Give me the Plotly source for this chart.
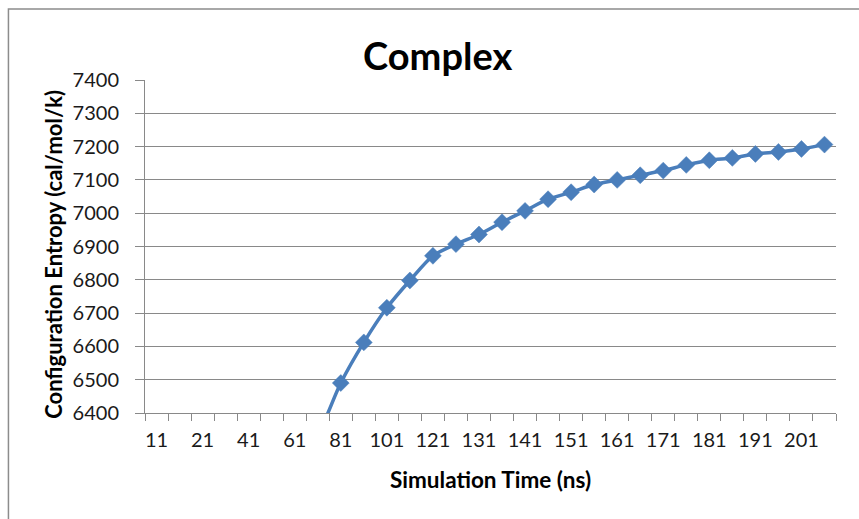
import plotly.graph_objects as go

# Simulation time categories (ns); only every other one carries a printed label
time_ns = ["11", "16", "21", "31", "41", "51", "61", "71", "81", "91",
           "101", "111", "121", "126", "131", "136", "141", "146", "151", "156",
           "161", "166", "171", "176", "181", "186", "191", "196", "201", "206"]
tick_text = ["11", "", "21", "", "41", "", "61", "", "81", "",
             "101", "", "121", "", "131", "", "141", "", "151", "",
             "161", "", "171", "", "181", "", "191", "", "201", ""]

# Configuration entropy (cal/mol/k)
entropy = [4600, 5200, 5600, 5850, 6020, 6150, 6250, 6335, 6490, 6612,
           6716, 6798, 6872, 6907, 6936, 6973, 7007, 7042, 7063, 7086,
           7100, 7114, 7128, 7145, 7159, 7166, 7178, 7184, 7193, 7206]

y_ticks = [6400, 6500, 6600, 6700, 6800, 6900, 7000, 7100, 7200, 7300, 7400]

BLUE = "#4a7ebb"
GRAY = "#898989"
FONT = "Lato"

fig = go.Figure()
fig.add_trace(go.Scatter(
    x=time_ns, y=entropy, mode="lines+markers",
    line=dict(color=BLUE, width=3.5, shape="spline", smoothing=0.8),
    marker=dict(symbol="diamond", size=13, color=BLUE,
                line=dict(color=BLUE, width=0.5)),
    cliponaxis=True, showlegend=False,
))

fig.update_layout(
    width=859, height=519,
    margin=dict(l=145, r=23, t=80, b=106),
    paper_bgcolor="white", plot_bgcolor="white",
    font=dict(family=FONT, color="#222222"),
    xaxis=dict(
        type="category", categoryorder="array", categoryarray=time_ns,
        range=[-0.5, len(time_ns) - 0.5],
        tickmode="array", tickvals=time_ns, ticktext=tick_text, tickangle=0,
        tickson="boundaries", ticks="outside", ticklen=7, tickcolor=GRAY,
        showline=True, linecolor=GRAY, linewidth=1,
        showgrid=False, zeroline=False,
        tickfont=dict(family=FONT, size=20, color="#1a1a1a"),
        ticklabelstandoff=9,
    ),
    yaxis=dict(
        range=[6400, 7400], tickmode="array", tickvals=y_ticks,
        ticks="outside", ticklen=9, tickcolor=GRAY,
        showline=True, linecolor=GRAY, linewidth=1,
        showgrid=True, gridcolor=GRAY, gridwidth=1, zeroline=False,
        tickfont=dict(family=FONT, size=20, color="#1a1a1a"),
        ticklabelstandoff=12,
    ),
    annotations=[
        dict(text="<b>Complex</b>", xref="paper", yref="paper",
             x=(437 - 145) / 690.7, y=(413.3 - 55) / 333.3,
             xanchor="center", yanchor="middle", showarrow=False,
             font=dict(family=FONT, size=38, color="black")),
        dict(text="<b>Simulation Time (ns)</b>", xref="paper", yref="paper",
             x=0.5, y=(413.3 - 480) / 333.3,
             xanchor="center", yanchor="middle", showarrow=False,
             font=dict(family=FONT, size=22.5, color="black")),
        dict(text="<b>Configuration Entropy (cal/mol/k)</b>", xref="paper", yref="paper",
             x=(54 - 145) / 690.7, y=(413.3 - 254) / 333.3, textangle=-90,
             xanchor="center", yanchor="middle", showarrow=False,
             font=dict(family=FONT, size=22, color="black")),
    ],
    shapes=[
        dict(type="rect", xref="paper", yref="paper",
             x0=(8.5 - 145) / 690.7, x1=(875 - 145) / 690.7,
             y0=(413.3 - 540) / 333.3, y1=(413.3 - 9) / 333.3,
             line=dict(color="#8c8c8c", width=1.5), fillcolor="rgba(0,0,0,0)",
             layer="below"),
    ],
)

fig.write_html("out.html")
